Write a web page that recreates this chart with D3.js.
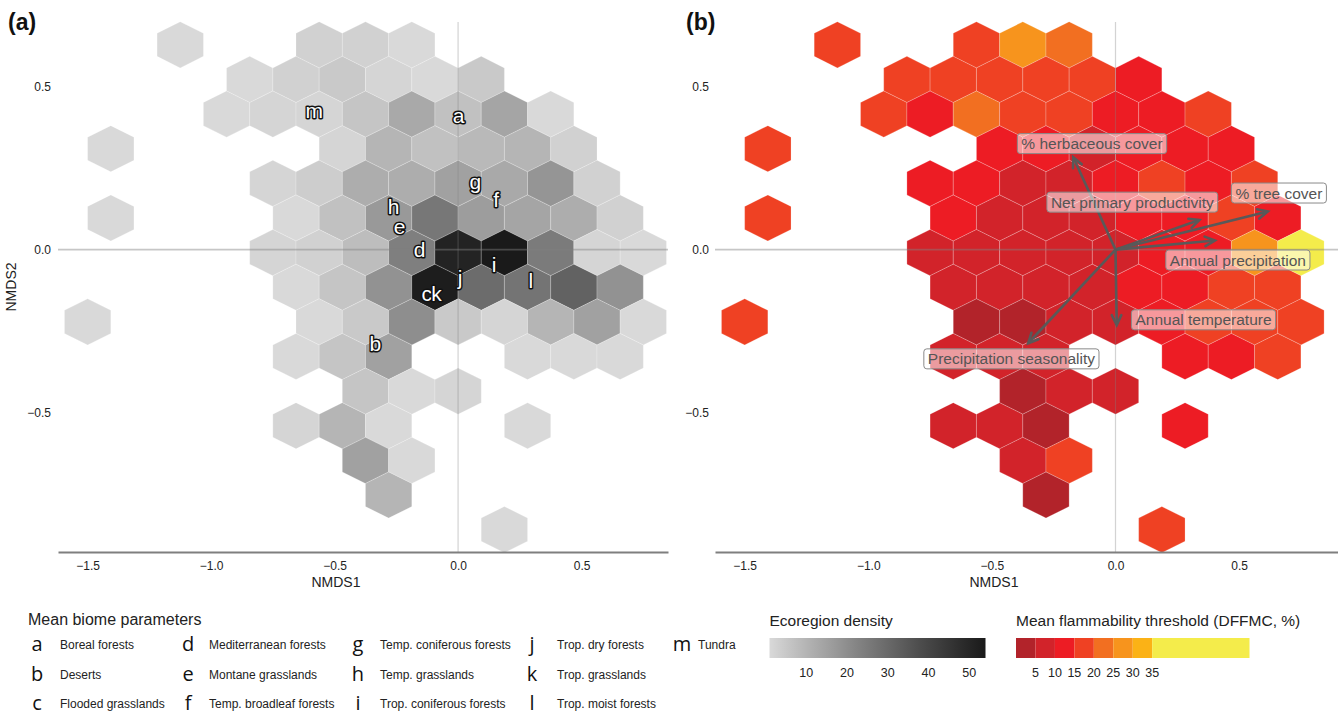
<!DOCTYPE html>
<html>
<head>
<meta charset="utf-8">
<script src="https://cdn.jsdelivr.net/npm/d3@7"></script>
<style>
  body { margin: 0; background: #fff; }
  svg { font-family: "Liberation Sans", Arial, sans-serif; }
</style>
</head>
<body>
<div id="chart"></div>
<script>
// ячейки гексбина: ряд, столбец, число экорегионов, средний порог горючести
const hexRow = [
  6, 6, 6, 6,
  5, 5, 5, 5, 5, 5,
  4, 4, 4, 4, 4, 4, 4, 4,
  3, 3, 3, 3, 3, 3, 3,
  2, 2, 2, 2, 2, 2, 2, 2,
  1, 1, 1, 1, 1, 1, 1, 1, 1,
  0, 0, 0, 0, 0, 0, 0, 0, 0,
  -1, -1, -1, -1, -1, -1, -1, -1,
  -2, -2, -2, -2, -2, -2, -2, -2, -2,
  -3, -3, -3, -3, -3, -3,
  -4, -4, -4,
  -5, -5, -5, -5,
  -6, -6,
  -7,
  -8
];
const hexCol = [
  -6, -3, -2, -1,
  -5, -4, -3, -2, -1, 0,
  -5, -4, -3, -2, -1, 0, 1, 2,
  -8, -3, -2, -1, 0, 1, 2,
  -4, -3, -2, -1, 0, 1, 2, 3,
  -8, -4, -3, -2, -1, 0, 1, 2, 3,
  -4, -3, -2, -1, 0, 1, 2, 3, 4,
  -4, -3, -2, -1, 0, 1, 2, 3,
  -8, -3, -2, -1, 0, 1, 2, 3, 4,
  -4, -3, -2, 1, 2, 3,
  -2, -1, 0,
  -4, -3, -2, 1,
  -2, -1,
  -2,
  1
];
const ecoCount = [
  1, 3, 3, 1,
  1, 3, 5, 2, 1, 5,
  1, 2, 2, 6, 13, 7, 14, 1,
  1, 2, 10, 7, 9, 10, 3,
  2, 4, 12, 12, 15, 13, 18, 3,
  1, 1, 7, 17, 26, 16, 14, 12, 3,
  2, 3, 8, 24, 51, 54, 25, 2, 1,
  1, 6, 19, 53, 29, 27, 32, 19,
  1, 1, 5, 20, 5, 2, 10, 15, 1,
  1, 6, 15, 1, 1, 1,
  6, 1, 2,
  2, 10, 1, 1,
  15, 1,
  10,
  1
];
const flamMean = [
  17.2, 16.4, 27.1, 21.8,
  16.9, 17.5, 16.1, 18.2, 15.8, 13.4,
  15.5, 11.8, 22.6, 16.7, 17.9, 12.9, 13.7, 15.3,
  16.3, 12.4, 11.2, 9.1, 11.6, 13.1, 12.7,
  12.2, 10.9, 8.7, 9.4, 10.6, 15.4, 12.8, 16.6,
  18.4, 11.3, 8.2, 7.6, 9.3, 10.8, 11.9, 15.7, 13.6,
  7.4, 8.8, 6.9, 7.2, 9.6, 10.4, 12.1, 28.3, 41.5,
  8.1, 6.5, 7.7, 8.5, 11.4, 12.6, 16.2, 17.8,
  17.4, 4.2, 3.8, 7.9, 8.6, 13.2, 15.9, 16.8, 18.1,
  6.8, 8.4, 9.2, 12.3, 10.7, 17.1,
  3.6, 7.1, 8.3,
  8.9, 7.5, 4.4, 11.5,
  6.2, 18.6,
  4.1,
  16.0
];

// геометрия сетки гексбина (единицы NMDS)
const binWidthX = 0.1875;
const binWidthY = 0.1065;
const binOriginY = -0.0092;

// средние параметры биомов
const biomeKeys = ["a", "b", "c", "d", "e", "f", "g", "h", "i", "j", "k", "l", "m"];
const biomeNames = ["Boreal forests", "Deserts", "Flooded grasslands", "Mediterranean forests",
  "Montane grasslands", "Temp. broadleaf forests", "Temp. coniferous forests", "Temp. grasslands",
  "Trop. coniferous forests", "Trop. dry forests", "Trop. grasslands", "Trop. moist forests", "Tundra"];
const biomeX = [0.002, -0.335, -0.127, -0.156, -0.237, 0.154, 0.070, -0.261, 0.146, 0.008, -0.087, 0.295, -0.582];
const biomeY = [0.412, -0.288, -0.134, 0.001, 0.071, 0.153, 0.209, 0.134, -0.047, -0.087, -0.134, -0.095, 0.428];

// векторы переменных среды
const envNames = ["% herbaceous cover", "Net primary productivity", "% tree cover",
  "Annual precipitation", "Annual temperature", "Precipitation seasonality"];
const envX = [-0.171, 0.339, 0.616, 0.402, 0.005, -0.353];
const envY = [0.284, 0.091, 0.117, 0.028, -0.232, -0.288];
const envLabelX = [-0.095, 0.068, 0.661, 0.495, 0.356, -0.421];
const envLabelY = [0.326, 0.146, 0.174, -0.032, -0.216, -0.336];

// оси и легенды
const xTicks = [-1.5, -1.0, -0.5, 0.0, 0.5];
const yTicks = [-0.5, 0.0, 0.5];
const yDomain = [-0.93, 0.70];
const densityDomain = [1, 54];
const densityTicks = [10, 20, 30, 40, 50];
const flamBreaks = [5, 10, 15, 20, 25, 30, 35];
const flamColours = ["#b2232a", "#d2232a", "#ed1c24", "#ef4123", "#f26f21", "#f7941d", "#fbb216", "#f4ec4b"];
const flamLimits = [0, 60];

let svg = d3.select("#chart").append("svg").attr("width", 1338).attr("height", 719);

let cells = hexRow.map((r, i) => ({row: r, col: hexCol[i], count: ecoCount[i], flam: flamMean[i]}));

let greyScale = d3.scaleLinear().domain(densityDomain).range(["#d9d9d9", "#1a1a1a"]).interpolate(d3.interpolateLab);
let flamScale = d3.scaleThreshold().domain(flamBreaks).range(flamColours);

//шестиугольник в координатах данных, переведённый через шкалы
function hexPath(d, x, y) {
  let cx = (d.col + (d.row % 2 !== 0 ? 0.5 : 0)) * binWidthX;
  let cy = binOriginY + d.row * binWidthY;
  let hw = binWidthX / 2, hh = binWidthY * 2 / 3;
  let pts = [[cx, cy + hh], [cx + hw, cy + hh / 2], [cx + hw, cy - hh / 2],
    [cx, cy - hh], [cx - hw, cy - hh / 2], [cx - hw, cy + hh / 2]];
  return "M" + pts.map(p => x(p[0]) + "," + y(p[1])).join("L") + "Z";
}

//панель с гексагонами, нулевыми линиями и осями
function panel(left, right, xDomain, fill, tag, tagX, padY, titleX) {
  let x = d3.scaleLinear().domain(xDomain).range([left, right]);
  let y = d3.scaleLinear().domain(yDomain).range([552, 22]);
  let g = svg.append("g");

  g.append("g").selectAll("path").data(cells).enter().append("path")
    .attr("d", d => hexPath(d, x, y))
    .attr("fill", fill)
    .attr("stroke", "#ffffff").attr("stroke-opacity", 0.35).attr("stroke-width", 0.6);

  g.append("line").attr("x1", left).attr("x2", right).attr("y1", y(0)).attr("y2", y(0))
    .attr("stroke", "#808080").attr("stroke-opacity", 0.45).attr("stroke-width", 1.6);
  g.append("line").attr("x1", x(0)).attr("x2", x(0)).attr("y1", y.range()[1]).attr("y2", y.range()[0])
    .attr("stroke", "#808080").attr("stroke-opacity", 0.35).attr("stroke-width", 1.2);

  let xAxis = g.append("g").attr("transform", "translate(0,552)")
    .call(d3.axisBottom(x).tickValues(xTicks).tickFormat(d3.format(".1f")).tickSize(0).tickPadding(9));
  xAxis.select(".domain").attr("stroke", "#7f7f7f").attr("stroke-width", 2.2);
  xAxis.attr("font-size", 12).attr("font-family", null);
  xAxis.selectAll("text").attr("fill", "#222");

  let yAxis = g.append("g").attr("transform", "translate(" + left + ",0)")
    .call(d3.axisLeft(y).tickValues(yTicks).tickFormat(d3.format(".1f")).tickSize(0).tickPadding(padY));
  yAxis.select(".domain").remove();
  yAxis.attr("font-size", 12).attr("font-family", null);
  yAxis.selectAll("text").attr("fill", "#222");

  g.append("text").attr("x", titleX).attr("y", 587)
    .attr("text-anchor", "middle").attr("font-size", 14).attr("fill", "#222").text("NMDS1");

  g.append("text").attr("x", tagX).attr("y", 30)
    .attr("font-size", 23).attr("font-weight", "bold").attr("fill", "#111").text(tag);

  return {x: x, y: y, g: g};
}

//панель (a): плотность экорегионов
let pa = panel(58, 668, [-1.62, 0.85], d => greyScale(d.count), "(a)", 8, 7, 336);
pa.g.append("text")
  .attr("transform", "translate(16," + (22 + 552) / 2 + ") rotate(-90)")
  .attr("text-anchor", "middle").attr("font-size", 14).attr("fill", "#222").text("NMDS2");

pa.g.append("g").selectAll("text").data(biomeKeys).enter().append("text")
  .attr("x", (d, i) => pa.x(biomeX[i]))
  .attr("y", (d, i) => pa.y(biomeY[i]))
  .attr("text-anchor", "middle").attr("dominant-baseline", "central")
  .attr("font-size", 21)
  .attr("fill", "#ffffff").attr("stroke", "#111").attr("stroke-width", 3)
  .attr("paint-order", "stroke").attr("stroke-linejoin", "round")
  .text(d => d);

//панель (b): порог горючести
let pb = panel(715, 1338, [-1.62, 0.9], d => flamScale(d.flam), "(b)", 686, 6, 994);

let arrows = pb.g.append("g");
envNames.forEach((name, i) => {
  let x0 = pb.x(0), y0 = pb.y(0);
  let x1 = pb.x(envX[i]), y1 = pb.y(envY[i]);
  let ang = Math.atan2(y1 - y0, x1 - x0);
  let head = 11, spread = 0.45;
  arrows.append("line").attr("x1", x0).attr("y1", y0).attr("x2", x1).attr("y2", y1)
    .attr("stroke", "#595959").attr("stroke-width", 2.6);
  arrows.append("path")
    .attr("d", "M" + (x1 - head * Math.cos(ang - spread)) + "," + (y1 - head * Math.sin(ang - spread)) +
      "L" + x1 + "," + y1 +
      "L" + (x1 - head * Math.cos(ang + spread)) + "," + (y1 - head * Math.sin(ang + spread)))
    .attr("fill", "none").attr("stroke", "#595959").attr("stroke-width", 2.6)
    .attr("stroke-linejoin", "miter").attr("stroke-linecap", "round");
});

let labels = pb.g.append("g");
envNames.forEach((name, i) => {
  let lg = labels.append("g");
  let rect = lg.append("rect");
  let t = lg.append("text")
    .attr("x", pb.x(envLabelX[i])).attr("y", pb.y(envLabelY[i]))
    .attr("text-anchor", "middle").attr("dominant-baseline", "central")
    .attr("font-size", 15.5).attr("fill", "#555").text(name);
  let w = t.node().getComputedTextLength();
  rect.attr("x", pb.x(envLabelX[i]) - w / 2 - 4).attr("y", pb.y(envLabelY[i]) - 10)
    .attr("width", w + 8).attr("height", 20).attr("rx", 3)
    .attr("fill", "#ffffff").attr("fill-opacity", 0.55)
    .attr("stroke", "#8a8a8a").attr("stroke-width", 1);
});

//легенда биомов
let leg = svg.append("g");
leg.append("text").attr("x", 28).attr("y", 625).attr("font-size", 16).attr("fill", "#222")
  .text("Mean biome parameters");
let keyX = [37, 188, 358, 532, 682];
let nameX = [60, 209, 380, 557, 698];
let rowY = [645, 675, 704];
biomeKeys.forEach((k, i) => {
  let c = Math.floor(i / 3), r = i % 3;
  leg.append("text").attr("x", keyX[c]).attr("y", rowY[r] + 6)
    .attr("text-anchor", "middle")
    .attr("font-family", "Open Sans").attr("font-size", 20).attr("fill", "#111").text(k);
  leg.append("text").attr("x", nameX[c]).attr("y", rowY[r] + 4)
    .attr("font-size", 12).attr("fill", "#222").text(biomeNames[i]);
});

//шкала плотности
let dx = d3.scaleLinear().domain(densityDomain).range([769.5, 985.5]);
let grad = svg.append("defs").append("linearGradient").attr("id", "greyGrad");
d3.range(0, 11).forEach(j => {
  let v = densityDomain[0] + (densityDomain[1] - densityDomain[0]) * j / 10;
  grad.append("stop").attr("offset", (j * 10) + "%").attr("stop-color", greyScale(v));
});
leg.append("text").attr("x", 769.5).attr("y", 626).attr("font-size", 15.5).attr("fill", "#222")
  .text("Ecoregion density");
leg.append("rect").attr("x", dx.range()[0]).attr("y", 638)
  .attr("width", dx.range()[1] - dx.range()[0]).attr("height", 20).attr("fill", "url(#greyGrad)");
leg.append("g").selectAll("text").data(densityTicks).enter().append("text")
  .attr("x", d => dx(d)).attr("y", 677).attr("text-anchor", "middle")
  .attr("font-size", 12.5).attr("fill", "#222").text(d => d);

//шкала горючести
let fx = d3.scaleLinear().domain(flamLimits).range([1016, 1249.5]);
let edges = [flamLimits[0]].concat(flamBreaks, [flamLimits[1]]);
leg.append("text").attr("x", 1016).attr("y", 626).attr("font-size", 15.5).attr("fill", "#222")
  .text("Mean flammability threshold (DFFMC, %)");
leg.append("g").selectAll("rect").data(flamColours).enter().append("rect")
  .attr("x", (d, i) => fx(edges[i])).attr("y", 638)
  .attr("width", (d, i) => fx(edges[i + 1]) - fx(edges[i])).attr("height", 20)
  .attr("fill", d => d);
leg.append("g").selectAll("text").data(flamBreaks).enter().append("text")
  .attr("x", d => fx(d)).attr("y", 677).attr("text-anchor", "middle")
  .attr("font-size", 12.5).attr("fill", "#222").text(d => d);
</script>
</body>
</html>
